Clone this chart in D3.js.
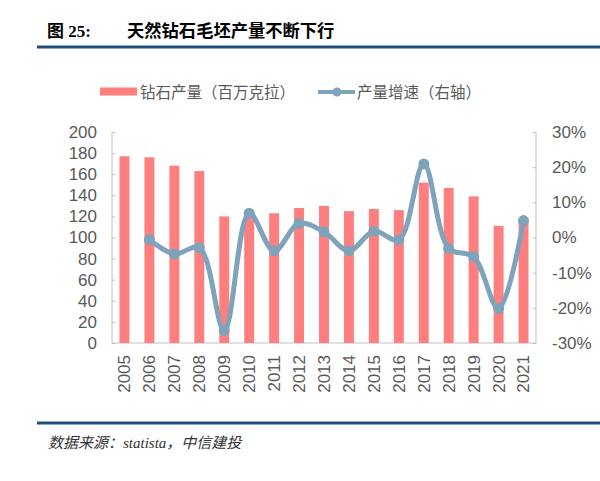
<!DOCTYPE html>
<html><head><meta charset="utf-8">
<script src="https://cdn.jsdelivr.net/npm/d3@7"></script>
<style>body{margin:0;background:#fff}svg{display:block}</style>
</head><body>
<svg id="c" width="600" height="481"></svg>
<script>
const years = ["2005","2006","2007","2008","2009","2010","2011","2012","2013","2014","2015","2016","2017","2018","2019","2020","2021"];
const production = [177,176,168,163,120,124,123,128,130,125,127,126,152,147,139,111,116];
const growth = [null,-0.6,-4.7,-2.9,-26.5,6.9,-3.8,4.0,1.6,-3.8,1.8,-0.7,20.9,-3.1,-5.5,-20.2,4.8];
const leftTicks = [0,20,40,60,80,100,120,140,160,180,200];
const rightTicks = [-30,-20,-10,0,10,20,30];
const titleNo = "图 25:";
const titleText = "天然钻石毛坯产量不断下行";
const legendBar = "钻石产量（百万克拉）";
const legendLine = "产量增速（右轴）";
const sourceText = "数据来源：statista，中信建投";

const svg = d3.select("#c");
const m = {l:112, r:536, t:132, b:343};
const x = d3.scaleBand().domain(years).range([m.l, m.r]).paddingInner(0.6).paddingOuter(0.3);
const yL = d3.scaleLinear().domain([0,200]).range([m.b, m.t]);
const yR = d3.scaleLinear().domain([-30,30]).range([m.b, m.t]);
const barColor = "#ff7f7f", lineColor = "#7fa3bb", axisColor = "#bfbfbf", txt = "#595959";

// title
svg.append("text").attr("x",47).attr("y",37).attr("font-family","'Liberation Serif','Noto Sans CJK SC',serif")
  .attr("font-weight","bold").attr("font-size",17).attr("fill","#000").text(titleNo);
svg.append("text").attr("x",127).attr("y",37).attr("font-family","'Noto Sans CJK SC',sans-serif")
  .attr("font-weight","bold").attr("font-size",17.3).attr("fill","#000").text(titleText);
svg.append("rect").attr("x",37).attr("y",45.5).attr("width",563).attr("height",3).attr("fill","#1f5080");
svg.append("rect").attr("x",37).attr("y",421.5).attr("width",563).attr("height",3).attr("fill","#1f5080");
svg.append("text").attr("x",48).attr("y",448).attr("font-family","'Liberation Serif','Noto Sans CJK SC',serif")
  .attr("font-style","italic").attr("font-size",15).attr("fill","#333").text(sourceText);

// legend
svg.append("rect").attr("x",100).attr("y",87.5).attr("width",37).attr("height",8).attr("fill",barColor);
svg.append("text").attr("x",140).attr("y",98).attr("font-family","'Noto Sans CJK SC',sans-serif")
  .attr("font-size",15.5).attr("fill",txt).text(legendBar);
svg.append("line").attr("x1",318).attr("x2",355).attr("y1",92).attr("y2",92).attr("stroke",lineColor).attr("stroke-width",4);
svg.append("circle").attr("cx",337).attr("cy",92).attr("r",4.5).attr("fill",lineColor);
svg.append("text").attr("x",357).attr("y",98).attr("font-family","'Noto Sans CJK SC',sans-serif")
  .attr("font-size",15.5).attr("fill",txt).text(legendLine);

// axes
const font = "'Liberation Sans',Arial,sans-serif";
const gL = svg.append("g").attr("transform",`translate(${m.l},0)`)
  .call(d3.axisLeft(yL).tickValues(leftTicks).tickSize(0).tickPadding(15));
const gR = svg.append("g").attr("transform",`translate(${m.r},0)`)
  .call(d3.axisRight(yR).tickValues(rightTicks).tickSize(0).tickPadding(16).tickFormat(d=>d+"%"));
const gX = svg.append("g").attr("transform",`translate(0,${m.b})`)
  .call(d3.axisBottom(x).tickSize(0).tickPadding(12));
[gL,gR,gX].forEach(g=>{
  g.selectAll("path,line").attr("stroke",axisColor);
  g.selectAll("text").attr("font-family",font).attr("font-size",17).attr("fill",txt);
});
gL.selectAll(".tick line").attr("x1",0).attr("x2",3);
gR.selectAll(".tick line").attr("x1",0).attr("x2",-3);
gL.select(".domain").attr("d",`M0,${m.t}V${m.b}`);
gR.select(".domain").attr("d",`M0,${m.t}V${m.b}`);
gX.select(".domain").attr("d",`M${m.l},0H${m.r}`);
gX.selectAll("text").attr("transform","rotate(-90)").attr("text-anchor","end")
  .attr("x",-12).attr("y",0).attr("dy","0.35em");

// bars
svg.append("g").selectAll("rect").data(years).join("rect")
  .attr("x",d=>x(d)).attr("width",x.bandwidth())
  .attr("y",(d,i)=>yL(production[i])).attr("height",(d,i)=>yL(0)-yL(production[i]))
  .attr("fill",barColor);

// line
const pts = years.map((d,i)=>({d,v:growth[i]})).filter(p=>p.v!==null);
const cx = d=>x(d)+x.bandwidth()/2;
svg.append("path").datum(pts)
  .attr("d",d3.line().x(p=>cx(p.d)).y(p=>yR(p.v)).curve(d3.curveCatmullRom.alpha(0.5)))
  .attr("fill","none").attr("stroke",lineColor).attr("stroke-width",5).attr("stroke-linejoin","round");
svg.append("g").selectAll("circle").data(pts).join("circle")
  .attr("cx",p=>cx(p.d)).attr("cy",p=>yR(p.v)).attr("r",5.5).attr("fill",lineColor);
</script>
</body></html>
